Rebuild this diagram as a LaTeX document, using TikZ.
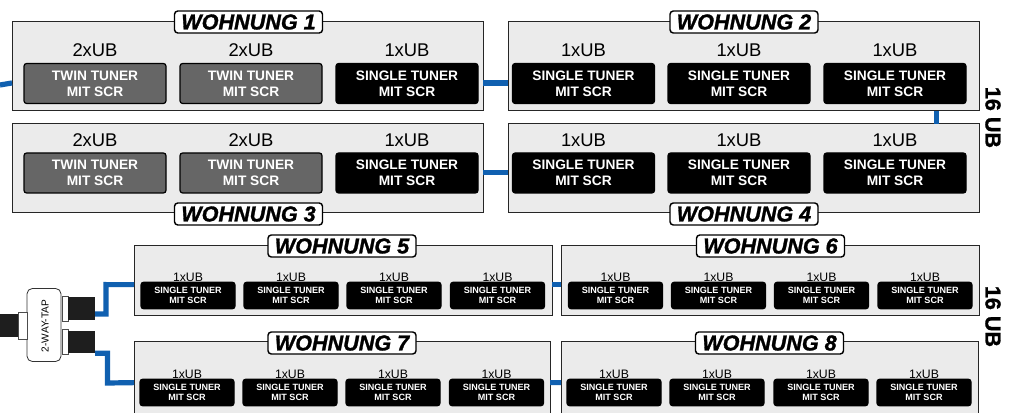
\documentclass[tikz,border=0pt]{standalone}
\usepackage{fontspec}
\setmainfont{Liberation Sans}
\newfontfamily\heavyfont[BoldFeatures={FakeBold=1.3},BoldItalicFeatures={FakeBold=1.3}]{Liberation Sans}
\definecolor{cableblue}{HTML}{1060B0}
\definecolor{twingrey}{HTML}{666666}
\definecolor{boxgrey}{HTML}{EBEBEB}
\definecolor{threadgrey}{HTML}{1E1E1E}

\begin{document}
\begin{tikzpicture}[x=0.75pt,y=-0.75pt,
    wohnung/.style 2 args={rectangle, draw=black!85, fill=boxgrey, line width=0.75pt, outer sep=0pt,
        minimum width=#1*0.75pt, minimum height=#2*0.75pt},
    title/.style ={rectangle, rounded corners=2.5pt, draw=black, fill=white, line width=1.1pt,
        minimum width=148*0.75pt, minimum height=22*0.75pt, inner sep=0pt, text=black,
        font=\heavyfont\bfseries\itshape\fontsize{16.2}{16}\selectfont},
    tuner/.style ={rectangle, rounded corners=2pt, draw=black, line width=0.9pt, text=white,
        align=center, inner sep=0pt, minimum width=142*0.75pt, minimum height=40*0.75pt,
        font=\bfseries\fontsize{10.3}{12}\selectfont},
    ub/.style ={inner sep=0pt, text=black, font=\fontsize{13.8}{14}\selectfont},
    twin/.style ={tuner, fill=twingrey, label={[ub, yshift=4.2pt]above:2xUB},
        node contents={TWIN TUNER\\MIT SCR}},
    single/.style ={tuner, fill=black, label={[ub, yshift=4.2pt]above:1xUB},
        node contents={SINGLE TUNER\\MIT SCR}},
    smallsingle/.style ={tuner, fill=black, minimum width=94*0.75pt, minimum height=26.5*0.75pt,
        font=\bfseries\fontsize{6.8}{7.6}\selectfont,
        label={[ub, font=\fontsize{9.2}{10}\selectfont]above:1xUB},
        node contents={SINGLE TUNER\\MIT SCR}},
    sum/.style ={rotate=-90, font=\heavyfont\bfseries\fontsize{16.2}{16}\selectfont},
    cable/.style ={draw=cableblue, line width=3.9pt},
    ferrule/.style ={rectangle, draw=black!70, fill=white, line width=0.5pt, inner sep=0pt, outer sep=0pt},
    thread/.style ={rectangle, fill=threadgrey, inner sep=0pt, outer sep=0pt, minimum width=27*0.75pt,
        minimum height=22.5*0.75pt}]
   \clip[use as bounding box] (0,0) rectangle (1014,413);

   % upper flats
   \node[wohnung={471}{89}] (W1) at (247.5,66.5) {};
   \node[wohnung={471}{89}] (W2) at (743.5,66.5) {};
   \node[wohnung={471}{89}] (W3) at (247.5,168.5) {};
   \node[wohnung={471}{89}] (W4) at (743.5,168.5) {};
   \node[title] (L1) at (248.5,22) {WOHNUNG 1};
   \node[title] (L2) at (744,22) {WOHNUNG 2};
   \node[title] (L3) at (248.5,214) {WOHNUNG 3};
   \node[title] (L4) at (744,214) {WOHNUNG 4};

   \node (T11) at (95,83.5) [twin];
   \node (T12) at (251,83.5) [twin];
   \node (T13) at (407,83.5) [single];
   \node (T21) at (583.5,83.5) [single];
   \node (T22) at (739,83.5) [single];
   \node (T23) at (895,83.5) [single];
   \node (T31) at (95,173) [twin];
   \node (T32) at (251,173) [twin];
   \node (T33) at (407,173) [single];
   \node (T41) at (583.5,173) [single];
   \node (T42) at (739,173) [single];
   \node (T43) at (895,173) [single];

   % lower flats
   \node[wohnung={418}{70}] (W5) at (343,281) {};
   \node[wohnung={418}{70}] (W6) at (770,281) {};
   \node[wohnung={416}{74}] (W7) at (342,379) {};
   \node[wohnung={417}{74}] (W8) at (769.5,379) {};
   \node[title] (L5) at (342,246) {WOHNUNG 5};
   \node[title] (L6) at (770.5,246) {WOHNUNG 6};
   \node[title] (L7) at (342,343) {WOHNUNG 7};
   \node[title] (L8) at (769.5,343) {WOHNUNG 8};

   \node (T51) at (188,295.5) [smallsingle];
   \node (T52) at (291,295.5) [smallsingle];
   \node (T53) at (394,295.5) [smallsingle];
   \node (T54) at (497.5,295.5) [smallsingle];
   \node (T61) at (615.5,295.5) [smallsingle];
   \node (T62) at (718.5,295.5) [smallsingle];
   \node (T63) at (821.5,295.5) [smallsingle];
   \node (T64) at (925,295.5) [smallsingle];
   \node (T71) at (187,392.5) [smallsingle];
   \node (T72) at (290,392.5) [smallsingle];
   \node (T73) at (393,392.5) [smallsingle];
   \node (T74) at (496.5,392.5) [smallsingle];
   \node (T81) at (614,392.5) [smallsingle];
   \node (T82) at (717,392.5) [smallsingle];
   \node (T83) at (821,392.5) [smallsingle];
   \node (T84) at (924,392.5) [smallsingle];

   \node[sum] (S1) at (993,117.5) {16 UB};
   \node[sum] (S2) at (993,316.5) {16 UB};

   % splitter
   \node[rectangle, rounded corners=4pt, draw=black!80, fill=white, line width=0.6pt, outer sep=0pt,
        minimum width=34*0.75pt, minimum height=73*0.75pt, inner sep=0pt] (TAP) at (44,325) {};
   \node[rotate=90, inner sep=0pt, font=\fontsize{7.6}{8}\selectfont] (TAPTEXT) at (45,326) {2-WAY-TAP};
   \node[ferrule, minimum width=6*0.75pt, minimum height=25*0.75pt] (F1) at (65,308.5) {};
   \node[ferrule, minimum width=6*0.75pt, minimum height=25*0.75pt] (F2) at (65,341.5) {};
   \node[ferrule, minimum width=9*0.75pt, minimum height=27*0.75pt] (F3) at (22.5,325.5) {};
   \node[thread] (TH1) at (81.5,308.5) {};
   \node[thread] (TH2) at (81.5,342) {};
   \node[thread, minimum width=18*0.75pt] (TH3) at (9,325.5) {};

   % cables
   \coordinate (IN) at (0,85);
   \coordinate (C1) at (106,284.6);
   \coordinate (C2) at (107.5,383);
   \draw[cable] (IN) -- (W1.184.5);
   \draw[cable] (W1.-4.5) -- (W2.184.5);
   \draw[cable] (W2.-13) -- (W4.13);
   \draw[cable] (W3.-1.1) -- (W4.181.1);
   \draw[cable] (W5.-1) -- (W6.181);
   \draw[cable] (W7.-1.1) -- (W8.181.1);
   \draw[cable] (TH1.-22) -| (C1) -- (W5.181);
   \draw[cable] (TH2.south east) -| (C2) -- (W7.181.1);
\end{tikzpicture}
\end{document}
